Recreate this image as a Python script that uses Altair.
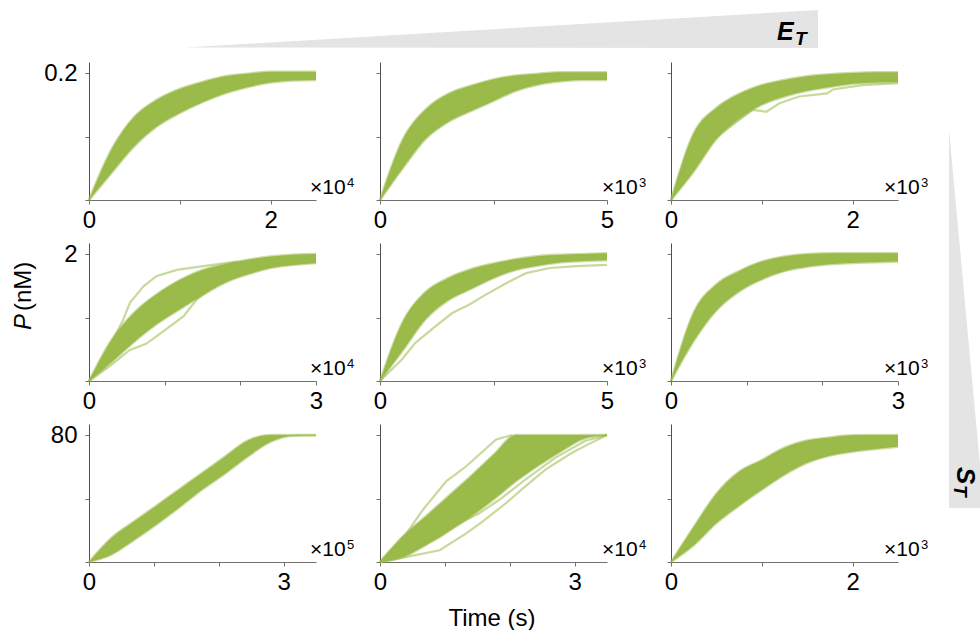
import altair as alt
import pandas as pd

GREEN = "#9aba4a"
FONT = "Liberation Sans"
GRAY_BANNER = "#e4e4e4"

# ---------------- data ----------------
# time values are in units of each panel's multiplier (x10^n s); P in nM
T11 = [0, 0.25, 0.5, 0.75, 1.0, 1.25, 1.5, 1.75, 2.0, 2.25, 2.5]
HI11 = [0, 0.080, 0.131, 0.158, 0.175, 0.186, 0.195, 0.199, 0.202, 0.202, 0.202]
LO11 = [0, 0.043, 0.085, 0.116, 0.137, 0.154, 0.168, 0.178, 0.185, 0.188, 0.189]

T12 = [0, 0.5, 1.0, 1.5, 2.0, 2.5, 3.0, 3.5, 4.0, 4.5, 5.0]
HI12 = [0, 0.095, 0.142, 0.167, 0.180, 0.190, 0.196, 0.199, 0.201, 0.201, 0.201]
LO12 = [0, 0.050, 0.096, 0.123, 0.140, 0.156, 0.172, 0.182, 0.187, 0.189, 0.189]

T13 = [0, 0.25, 0.5, 0.75, 1.0, 1.25, 1.5, 1.75, 2.0, 2.25, 2.5]
HI13 = [0, 0.105, 0.145, 0.167, 0.181, 0.189, 0.195, 0.198, 0.200, 0.201, 0.201]
LO13 = [0, 0.045, 0.096, 0.128, 0.150, 0.163, 0.172, 0.178, 0.183, 0.185, 0.186]
OUT13_T = [0, 0.2, 0.46, 0.75, 0.90, 1.05, 1.19, 1.41, 1.72, 1.78, 2.11, 2.5]
OUT13_P = [0, 0.059, 0.095, 0.126, 0.142, 0.139, 0.152, 0.163, 0.168, 0.174, 0.181, 0.184]

T21 = [0, 0.3, 0.6, 0.9, 1.2, 1.5, 1.8, 2.1, 2.4, 2.7, 3.0]
HI21 = [0, 0.65, 1.08, 1.37, 1.59, 1.75, 1.84, 1.91, 1.96, 1.99, 2.0]
LO21 = [0, 0.30, 0.62, 0.90, 1.13, 1.35, 1.55, 1.68, 1.78, 1.83, 1.86]
OUT21A_T = [0, 0.19, 0.45, 0.54, 0.72, 0.89, 1.16, 1.51, 1.96]
OUT21A_P = [0, 0.33, 0.96, 1.23, 1.49, 1.65, 1.75, 1.81, 1.88]
OUT21B_T = [0, 0.27, 0.54, 0.76, 0.98, 1.25, 1.42, 1.60, 1.96, 2.40, 3.0]
OUT21B_P = [0, 0.23, 0.49, 0.59, 0.78, 1.02, 1.28, 1.46, 1.65, 1.81, 1.87]

T22 = [0, 0.5, 1.0, 1.5, 2.0, 2.5, 3.0, 3.5, 4.0, 4.5, 5.0]
HI22 = [0, 0.93, 1.40, 1.62, 1.76, 1.85, 1.92, 1.97, 1.99, 2.0, 2.01]
LO22 = [0, 0.48, 0.97, 1.27, 1.45, 1.62, 1.75, 1.82, 1.87, 1.89, 1.90]
OUT22_T = [0, 0.48, 0.78, 1.22, 1.59, 1.96, 2.33, 2.78, 3.22, 3.74, 4.33, 5.0]
OUT22_P = [0, 0.34, 0.60, 0.86, 1.07, 1.20, 1.36, 1.54, 1.70, 1.78, 1.81, 1.83]

T23 = [0, 0.3, 0.6, 0.9, 1.2, 1.5, 1.8, 2.1, 2.4, 2.7, 3.0]
HI23 = [0, 1.08, 1.52, 1.73, 1.88, 1.96, 2.0, 2.01, 2.01, 2.01, 2.01]
LO23 = [0, 0.63, 1.11, 1.41, 1.60, 1.73, 1.80, 1.84, 1.86, 1.87, 1.88]

T31 = [0, 0.35, 0.7, 1.05, 1.4, 1.75, 2.1, 2.45, 2.8, 3.15, 3.5]
HI31 = [0, 15.3, 25.6, 35.8, 46.0, 56.2, 66.5, 76.5, 80, 80, 80]
LO31 = [0, 4.8, 14.0, 24.0, 34.6, 45.8, 55.8, 66.5, 75.8, 79.6, 79.8]

T32 = [0, 0.35, 0.7, 1.05, 1.4, 1.75, 2.1, 2.45, 2.8, 3.15, 3.5]
HI32 = [0, 16.0, 28.5, 41.3, 54.0, 67.5, 80, 80, 80, 80, 80]
LO32 = [0, 3.0, 10.5, 19.2, 28.6, 39.3, 51.0, 61.0, 70.0, 77.8, 80]
OUT32A_T = [0, 0.41, 0.66, 1.02, 1.33, 1.79, 2.04]
OUT32A_P = [0, 18.0, 32.8, 50.8, 60.3, 77.2, 80]
OUT32B_T = [0, 0.41, 0.92, 1.33, 1.58, 1.94, 2.24, 2.55, 2.96, 3.21, 3.5]
OUT32B_P = [0, 3.2, 7.4, 18.0, 25.4, 37.0, 47.6, 58.2, 68.8, 74.1, 80]
OUT32C_T = [0, 0.41, 0.92, 1.22, 1.53, 1.84, 2.24, 2.70, 3.16, 3.5]
OUT32C_P = [0, 5.3, 15.9, 24.3, 30.7, 39.2, 51.9, 65.6, 76.2, 80]

T33 = [0, 0.25, 0.5, 0.75, 1.0, 1.25, 1.5, 1.75, 2.0, 2.25, 2.5]
HI33 = [0, 22.0, 43.0, 56.8, 64.2, 72.0, 76.5, 78.5, 79.8, 80, 80]
LO33 = [0, 10.5, 24.5, 35.5, 45.5, 55.0, 62.5, 67.0, 69.5, 71.2, 72.6]

# axis settings per panel (rows = S_T level, columns = E_T level)
X_MAX = [[2.5, 5, 2.5], [3, 5, 3], [3.5, 3.5, 2.5]]
X_TICKS = [[[0, 1, 2], [0, 2.5, 5], [0, 1, 2]],
           [[0, 1, 2, 3], [0, 2.5, 5], [0, 1, 2, 3]],
           [[0, 1, 2, 3], [0, 1, 2, 3], [0, 1, 2]]]
X_LABEL_MAX = [[2, 5, 2], [3, 5, 3], [3, 3, 2]]
EXPONENTS = [["4", "3", "3"], ["4", "3", "3"], ["5", "4", "3"]]
Y_MAX = [0.2, 2, 80]
Y_LABELS = ["0.2", "2", "80"]

BANDS = {
    (0, 0): (T11, LO11, HI11, []),
    (0, 1): (T12, LO12, HI12, []),
    (0, 2): (T13, LO13, HI13, [(OUT13_T, OUT13_P)]),
    (1, 0): (T21, LO21, HI21, [(OUT21A_T, OUT21A_P), (OUT21B_T, OUT21B_P)]),
    (1, 1): (T22, LO22, HI22, [(OUT22_T, OUT22_P)]),
    (1, 2): (T23, LO23, HI23, []),
    (2, 0): (T31, LO31, HI31, []),
    (2, 1): (T32, LO32, HI32, [(OUT32A_T, OUT32A_P), (OUT32B_T, OUT32B_P), (OUT32C_T, OUT32C_P)]),
    (2, 2): (T33, LO33, HI33, []),
}

# ---------------- layout ----------------
W, H = 227, 138
HEADROOM = 138 / 127
EXP_OFFSET = [-6, -5, -14]
ONE = alt.Data(values=[{"k": 1}])


def txt(text, x, y, size, **kw):
    return alt.Chart(ONE).mark_text(
        text=text, font=FONT, fontSize=size, color="black",
        align=kw.pop("align", "left"), baseline=kw.pop("baseline", "alphabetic"), **kw
    ).encode(x=alt.value(x), y=alt.value(y))


def shape(path, color):
    return alt.Chart(ONE).mark_point(
        shape=path, size=4, filled=True, fill=color, opacity=1, strokeWidth=0
    ).encode(x=alt.value(0), y=alt.value(0))


def panel(r, c):
    t, lo, hi, outs = BANDS[(r, c)]
    xmax = X_MAX[r][c]
    ymax = Y_MAX[r]
    xs = alt.Scale(domain=[0, xmax], nice=False, zero=False)
    ys = alt.Scale(domain=[0, ymax * HEADROOM], nice=False, zero=False)
    lab = X_LABEL_MAX[r][c]
    x_axis = alt.Axis(
        values=X_TICKS[r][c],
        labelExpr=f"datum.value == 0 ? '0' : (datum.value == {lab} ? '{lab:g}' : '')",
        title=None, grid=False, tickSize=4, labelPadding=4,
        labelFontSize=24, labelFont=FONT, labelColor="black",
        domainColor="#707070", tickColor="#707070",
        labelOverlap=False, labelFlush=False, labelBound=False,
    )
    if c == 0:
        y_axis = alt.Axis(
            values=[0, ymax / 2, ymax],
            labelExpr=f"datum.value == {ymax} ? '{Y_LABELS[r]}' : ''",
            title=None, grid=False, tickSize=4, labelPadding=8,
            labelFontSize=24, labelFont=FONT, labelColor="black",
            domainColor="#505050", tickColor="#707070",
            labelOverlap=False, labelFlush=False, labelBound=False,
        )
    else:
        y_axis = alt.Axis(
            values=[0, ymax / 2, ymax], labels=False, title=None, grid=False,
            tickSize=4, domainColor="#505050", tickColor="#707070",
        )

    def X(field):
        return alt.X(field, scale=xs, axis=x_axis, title=None)

    def Y(field):
        return alt.Y(field, scale=ys, axis=y_axis, title=None)

    band = pd.DataFrame({"t": t, "lo": lo, "hi": hi})
    area = alt.Chart(band).mark_area(color=GREEN, opacity=1, interpolate="monotone").encode(
        x=X("t:Q"), y=Y("hi:Q"), y2="lo:Q",
    )
    edge_rows = []
    for tt, lv, hv in zip(t, lo, hi):
        edge_rows.append({"t": tt, "p": lv, "id": "lo"})
        edge_rows.append({"t": tt, "p": hv, "id": "hi"})
    edges = alt.Chart(pd.DataFrame(edge_rows)).mark_line(
        color=GREEN, opacity=0.5, strokeWidth=2.5, interpolate="monotone"
    ).encode(x=X("t:Q"), y=Y("p:Q"), detail="id:N")
    layers = [area, edges]
    if outs:
        rows = []
        for k, (ot, op) in enumerate(outs):
            for a, b in zip(ot, op):
                rows.append({"t": a, "p": b, "id": k})
        layers.append(alt.Chart(pd.DataFrame(rows)).mark_line(
            color=GREEN, opacity=0.55, strokeWidth=2.2
        ).encode(x=X("t:Q"), y=Y("p:Q"), detail="id:N"))
    # x10^n multiplier
    ex = W + EXP_OFFSET[c]
    layers.append(txt("×10", ex, H - 6.5, 21))
    layers.append(txt(EXPONENTS[r][c], ex + 37, H - 13, 13))

    if (r, c) == (0, 0):
        # page anchor (top-left corner) so the first plot sits at (89, 62)
        layers.append(alt.Chart(ONE).mark_rule(opacity=0, strokeWidth=0.01).encode(
            x=alt.value(-89), x2=alt.value(-88), y=alt.value(-62)))
        # E_T wedge and label
        layers.append(shape("M96,-14.5L729,-52L729,-14Z", GRAY_BANNER))
        layers.append(txt("E", 688, -22.5, 25, fontStyle="italic", fontWeight="bold"))
        layers.append(txt("T", 706, -17.5, 19, fontStyle="italic", fontWeight="bold"))
        # S_T wedge and label
        layers.append(shape("M860,68L860,446L891,446L891,403Z", GRAY_BANNER))
        layers.append(txt("S", 868, 405, 26, fontStyle="italic", fontWeight="bold", angle=90))
        layers.append(txt("T", 864.5, 423, 19, fontStyle="italic", fontWeight="bold", angle=90))
    if (r, c) == (1, 0):
        layers.append(txt("P", -58.5, 87, 24, fontStyle="italic", angle=270))
        layers.append(txt("(nM)", -58.5, 68, 24, angle=270))
    if (r, c) == (2, 1):
        layers.append(txt("Time (s)", W / 2 - 1.5, 202, 24, align="center"))

    return alt.layer(*layers).properties(width=W, height=H)


panels = [panel(r, c) for r in range(3) for c in range(3)]

chart = alt.concat(
    *panels, columns=3, spacing={"row": 43, "column": 64}, bounds="flush"
).properties(
    padding={"left": 0, "top": 0, "right": 0, "bottom": 0},
    background="white",
).configure_view(stroke=None)

chart.save("out.html", embed_options={"renderer": "svg", "actions": False})
